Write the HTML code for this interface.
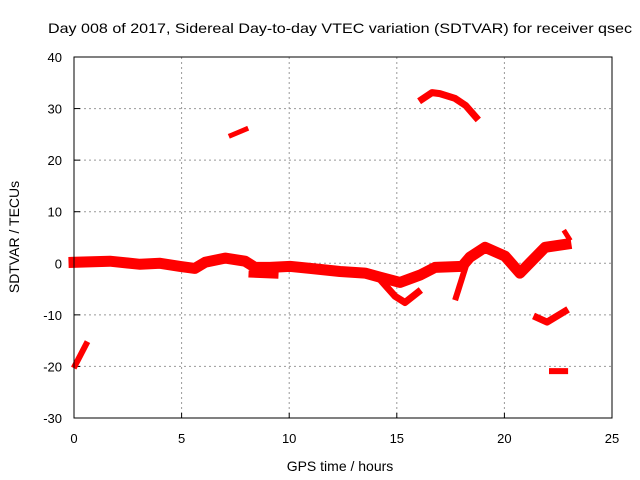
<!DOCTYPE html>
<html><head><meta charset="utf-8"><style>
body{margin:0;background:#fff}
svg{display:block;font-family:"Liberation Sans",sans-serif;font-size:13px}
</style></head><body>
<svg id="c" width="640" height="480">
<text x="48" y="33" textLength="584" lengthAdjust="spacingAndGlyphs" style="font-size:14px">Day 008 of 2017, Sidereal Day-to-day VTEC variation (SDTVAR) for receiver qsec</text>
<text x="340" y="471" text-anchor="middle" style="font-size:14px">GPS time / hours</text>
<text transform="translate(19,237) rotate(-90)" text-anchor="middle" style="font-size:14px">SDTVAR / TECUs</text>
<g id="grid"></g><g id="marks"></g>
<rect x="74" y="57" width="538" height="361" fill="none" stroke="#000"/>
</svg>
<script>
const xTicks=[0,5,10,15,20,25];
const yTicks=[-30,-20,-10,0,10,20,30,40];
const mainT=[0,1.67,3.07,4.0,4.93,5.62,6.09,7.02,7.95,8.41,9.11,10.04,10.97,12.36,13.52,14.22,15.15,16.08,16.78,18.03,18.4,19.1,20.03,20.72,21.89,22.86];
const mainV=[0.2,0.4,-0.2,0,-0.6,-1.0,0.2,1.0,0.4,-0.8,-0.8,-0.6,-1.0,-1.6,-1.9,-2.7,-3.7,-2.3,-0.8,-0.6,1.2,3.1,1.4,-1.9,3.1,3.7];
const lowT=[14.22,14.92,15.38,15.99];const lowV=[-3.1,-6.4,-7.6,-5.6];
const dipT=[8.27,9.34];const dipV=[-2.1,-2.3];
const brT=[18.22,17.75];const brV=[-0.4,-6.6];
const blobT=[22.82,23.0];const blobV=[6.0,4.8];
const m10T=[21.5,21.98,22.82];const m10V=[-10.5,-11.4,-9.3];
const m21T=[22.21,22.82];const m21V=[-20.9,-20.9];
const startT=[0.05,0.56];const startV=[-19.8,-15.7];
const s25T=[7.3,7.99];const s25V=[24.8,26.0];
const s32T=[16.17,16.64,17.0,17.7,18.2,18.68];const s32V=[31.8,33.1,32.9,32.0,30.6,28.3];
const X=t=>74+t*538/25, Y=v=>418-(v+30)*361/70;
const NS="http://www.w3.org/2000/svg";
const g=document.getElementById('grid'), mk=document.getElementById('marks'), svg=document.getElementById('c');
function el(p,tag,a){const e=document.createElementNS(NS,tag);for(const k in a)e.setAttribute(k,a[k]);p.appendChild(e);return e;}
xTicks.forEach(t=>{const x=X(t);
 if(t>0&&t<25){const l=el(g,'line',{x1:x,x2:x,y1:57,y2:418,stroke:'#999','stroke-dasharray':'2,3'});
 }
 const tk=el(g,'line',{x1:x,x2:x,y1:418,y2:413,stroke:'#000'});
 
 const tx=el(g,'text',{x:x,y:443,'text-anchor':'middle'});tx.textContent=t;
 });
yTicks.forEach(v=>{const y=Y(v);
 if(v>-30&&v<40){const l=el(g,'line',{x1:74,x2:612,y1:y,y2:y,stroke:'#999','stroke-dasharray':'2,3'});
 }
 const tk=el(g,'line',{x1:74,x2:80,y1:y,y2:y,stroke:'#000'});
 
 const tx=el(g,'text',{x:62,y:y+5,'text-anchor':'end'});tx.textContent=v;
 });
function series(T,V,w,name){const pts=T.map((t,i)=>X(t).toFixed(1)+','+Y(V[i]).toFixed(1)).join(' ');
 const p=el(mk,'polyline',{points:pts,fill:'none',stroke:'#f00','stroke-width':w,'stroke-linejoin':'round','stroke-linecap':'square'});
 }
series(mainT,mainV,11,'series-main-band');
series(lowT,lowV,7,'series-low-branch');
series(dipT,dipV,7,'series-dip');
series(brT,brV,6,'series-branch');
series(blobT,blobV,5,'series-blob');
series(m10T,m10V,7,'series-minus10');
series(m21T,m21V,6,'series-minus21');
series(startT,startV,6,'series-start');
series(s25T,s25V,5,'series-25');
series(s32T,s32V,7,'series-32');
</script>
</body></html>
